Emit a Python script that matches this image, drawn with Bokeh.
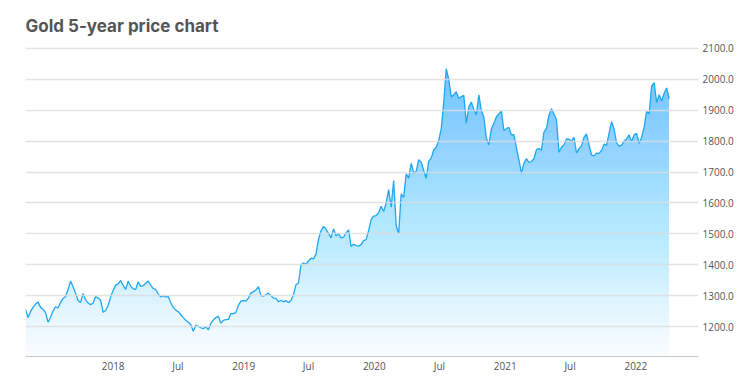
import numpy as np
import pandas as pd
from bokeh.plotting import figure
from bokeh.models import Range1d, FixedTicker, NumeralTickFormatter
from bokeh.embed import file_html
from bokeh.resources import INLINE

# ---- data (weekly gold price, USD/oz) ----
start_date = "2017-05-01"
prices = [
    1255, 1229, 1248, 1262, 1272, 1279, 1262, 1256, 1245, 1214,
    1230, 1250, 1264, 1260, 1278, 1291, 1297, 1320, 1347, 1329,
    1308, 1284, 1278, 1307, 1286, 1276, 1271, 1276, 1297, 1292,
    1285, 1246, 1252, 1268, 1296, 1317, 1334, 1338, 1349, 1333,
    1320, 1347, 1330, 1322, 1320, 1345, 1330, 1332, 1340, 1347,
    1334, 1323, 1320, 1305, 1296, 1299, 1296, 1297, 1277, 1262,
    1253, 1248, 1238, 1229, 1220, 1214, 1206, 1185, 1205, 1200,
    1196, 1193, 1200, 1189, 1210, 1221, 1229, 1233, 1211, 1220,
    1222, 1223, 1242, 1242, 1245, 1268, 1282, 1284, 1282, 1292,
    1308, 1313, 1318, 1329, 1300, 1298, 1303, 1308, 1300, 1292,
    1291, 1280, 1285, 1280, 1284, 1278, 1284, 1303, 1335, 1341,
    1400, 1405, 1402, 1412, 1421, 1419, 1435, 1483, 1510, 1524,
    1515, 1501, 1487, 1516, 1494, 1500, 1487, 1489, 1503, 1513,
    1459, 1466, 1462, 1460, 1465, 1478, 1481, 1510, 1545, 1557,
    1559, 1568, 1589, 1572, 1600, 1643, 1586, 1672, 1527, 1500,
    1629, 1618, 1694, 1680, 1728, 1697, 1702, 1740, 1732, 1705,
    1680, 1735, 1745, 1772, 1780, 1802, 1840, 1926, 2034, 2000,
    1943, 1950, 1960, 1938, 1944, 1948, 1858, 1910, 1926, 1902,
    1885, 1950, 1900, 1878, 1810, 1788, 1838, 1858, 1878, 1888,
    1897, 1835, 1840, 1845, 1820, 1821, 1780, 1740, 1696, 1728,
    1743, 1731, 1734, 1743, 1772, 1777, 1770, 1829, 1840, 1883,
    1905, 1888, 1870, 1764, 1780, 1788, 1807, 1806, 1800, 1812,
    1762, 1775, 1785, 1812, 1823, 1788, 1755, 1752, 1761, 1760,
    1770, 1790, 1786, 1825, 1863, 1840, 1794, 1784, 1787, 1800,
    1807, 1820, 1798, 1820, 1825, 1793, 1812, 1845, 1896, 1888,
    1978, 1989, 1925, 1950, 1930, 1955, 1972, 1937,
]
tick_dates = ["2018-01-01", "2018-07-01", "2019-01-01", "2019-07-01", "2020-01-01",
              "2020-07-01", "2021-01-01", "2021-07-01", "2022-01-01"]
tick_labels = ["2018", "Jul", "2019", "Jul", "2020", "Jul", "2021", "Jul", "2022"]
y_ticks = [1200, 1300, 1400, 1500, 1600, 1700, 1800, 1900, 2000, 2100]
title_text = "Gold 5-year price chart"

dates = pd.date_range(start_date, periods=len(prices), freq="7D")
price_arr = np.array(prices, dtype=float)

y_lo, y_hi = 1103, 2132
p = figure(width=742, height=375, x_axis_type="datetime",
           x_range=Range1d(pd.Timestamp("2017-05-01"), pd.Timestamp("2022-06-25")),
           y_range=Range1d(y_lo, y_hi),
           output_backend="svg", toolbar_location=None, y_axis_location="right",
           min_border_left=25, min_border_right=44, min_border_bottom=19, min_border_top=38)
p.outline_line_color = None
p.background_fill_color = "white"
p.border_fill_color = "white"

# gradient-like fill: nested translucent areas
n_bands = 45
levels = np.linspace(y_lo, 2040, n_bands)
cum = np.linspace(0.03, 0.58, n_bands)
prev = 0.0
for lv, A in zip(levels, cum):
    a = 1 - (1 - A) / (1 - prev)
    prev = A
    top = np.maximum(price_arr, lv)
    p.varea(x=dates, y1=np.full(len(prices), lv), y2=top,
            fill_color=(30, 168, 245), fill_alpha=a)

p.line(dates, price_arr, line_color="#1ea7f2", line_width=1.3)

# grid
p.xgrid.grid_line_color = None
p.ygrid.grid_line_color = "#dcdcdc"
p.ygrid.grid_line_width = 1.5
p.ygrid.grid_line_alpha = 0.8
p.ygrid.level = "glyph"

# y axis
ya = p.yaxis[0]
ya.ticker = FixedTicker(ticks=y_ticks)
ya.formatter = NumeralTickFormatter(format="0.0")
ya.axis_line_color = None
ya.major_tick_line_color = None
ya.minor_tick_line_color = None
ya.major_tick_out = 0
ya.major_tick_in = 0
ya.major_label_standoff = 4
ya.major_label_text_font = "Open Sans"
ya.major_label_text_font_size = "10px"
ya.major_label_text_color = "#555555"

# x axis
xa = p.xaxis[0]
tick_ms = [pd.Timestamp(d).value // 10**6 for d in tick_dates]
xa.ticker = FixedTicker(ticks=tick_ms)
xa.major_label_overrides = {t: lab for t, lab in zip(tick_ms, tick_labels)}
xa.axis_line_color = "#c8c8c8"
xa.axis_line_width = 1.2
xa.major_tick_line_color = None
xa.minor_tick_line_color = None
xa.major_tick_out = 0
xa.major_tick_in = 0
xa.major_label_standoff = 2
xa.major_label_text_font = "Open Sans"
xa.major_label_text_font_size = "10px"
xa.major_label_text_color = "#555555"

p.title.text = title_text
p.title.text_font = "Inter"
p.title.text_font_style = "bold"
p.title.text_font_size = "17px"
p.title.text_color = "#555555"
p.title.standoff = 6

open("out.html", "w").write(file_html(p, INLINE))
